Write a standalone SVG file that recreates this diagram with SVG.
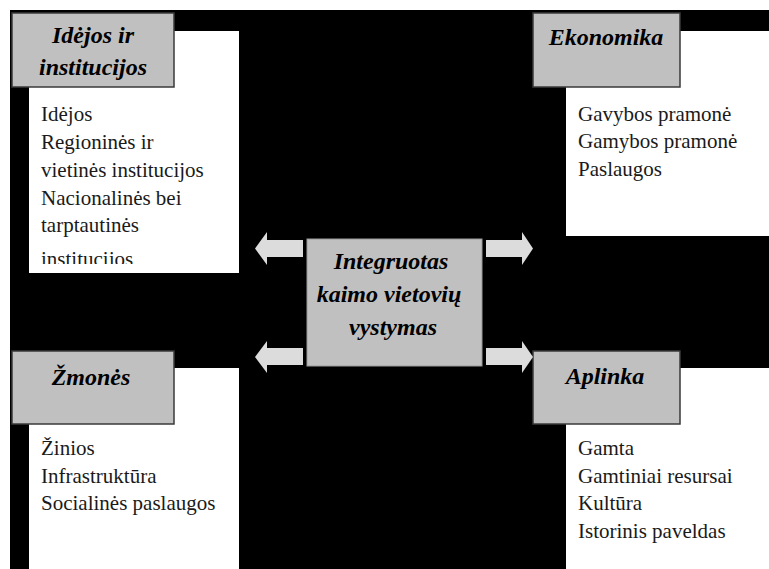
<svg xmlns="http://www.w3.org/2000/svg" width="769" height="569" viewBox="0 0 769 569">
<style>
.bg{fill:#000}
.head{fill:#c0c0c0;stroke:#3a3a3a;stroke-width:1.5}
.panel{fill:#fff}
.title{font-family:'Liberation Serif',serif;font-size:24px;font-weight:bold;font-style:italic;fill:#000;text-anchor:middle}
.body{font-family:'Liberation Serif',serif;font-size:21px;fill:#1a1a1a}
.arrow{fill:#dcdcdc}
</style>
<defs>
<clipPath id="clipTL"><rect x="29" y="31" width="210" height="233"/></clipPath>
</defs>
<rect x="0" y="0" width="769" height="569" fill="#fff"/>
<rect class="bg" x="10" y="10" width="759" height="559"/>

<g id="node-idejos">
<rect class="panel" x="29" y="31" width="210" height="242"/>
<rect class="head" x="12" y="13" width="162" height="74"/>
<text class="title" x="93" y="43">Idėjos ir</text>
<text class="title" x="93" y="75">institucijos</text>
<g clip-path="url(#clipTL)">
<text class="body" x="41" y="121">Idėjos</text>
<text class="body" x="41" y="149">Regioninės ir</text>
<text class="body" x="41" y="177">vietinės institucijos</text>
<text class="body" x="41" y="205">Nacionalinės bei</text>
<text class="body" x="41" y="232">tarptautinės</text>
<text class="body" x="41" y="266">institucijos</text>
</g>
</g>

<g id="node-ekonomika">
<rect class="panel" x="566" y="31" width="203" height="205"/>
<rect class="head" x="533" y="13" width="147" height="74"/>
<text class="title" x="606" y="45">Ekonomika</text>
<text class="body" x="578" y="121">Gavybos pramonė</text>
<text class="body" x="578" y="148">Gamybos pramonė</text>
<text class="body" x="578" y="176">Paslaugos</text>
</g>

<g id="node-zmones">
<rect class="panel" x="29" y="368" width="210" height="201"/>
<rect class="head" x="12" y="351" width="162" height="73"/>
<text class="title" x="91" y="385">Žmonės</text>
<text class="body" x="41" y="455">Žinios</text>
<text class="body" x="41" y="483">Infrastruktūra</text>
<text class="body" x="41" y="510">Socialinės paslaugos</text>
</g>

<g id="node-aplinka">
<rect class="panel" x="566" y="368" width="203" height="201"/>
<rect class="head" x="533" y="351" width="147" height="73"/>
<text class="title" x="605" y="384">Aplinka</text>
<text class="body" x="578" y="455">Gamta</text>
<text class="body" x="578" y="483">Gamtiniai resursai</text>
<text class="body" x="578" y="510">Kultūra</text>
<text class="body" x="578" y="538">Istorinis paveldas</text>
</g>

<g id="node-center">
<rect x="307" y="239" width="175" height="127" fill="#c0c0c0" stroke="#9a9a9a" stroke-width="1"/>
<text class="title" x="391" y="269">Integruotas</text>
<text class="title" x="389" y="302">kaimo vietovių</text>
<text class="title" x="393" y="335">vystymas</text>
</g>

<g id="connectors">
<polygon class="arrow" points="303,240 267,240 267,232 255,248.5 267,265 267,257 303,257"/>
<polygon class="arrow" points="486,240 522,240 522,232 533,248.5 522,265 522,257 486,257"/>
<polygon class="arrow" points="303,348 267,348 267,341 255,357 267,373 267,365 303,365"/>
<polygon class="arrow" points="486,348 522,348 522,341 533,357 522,373 522,365 486,365"/>
</g>
</svg>
